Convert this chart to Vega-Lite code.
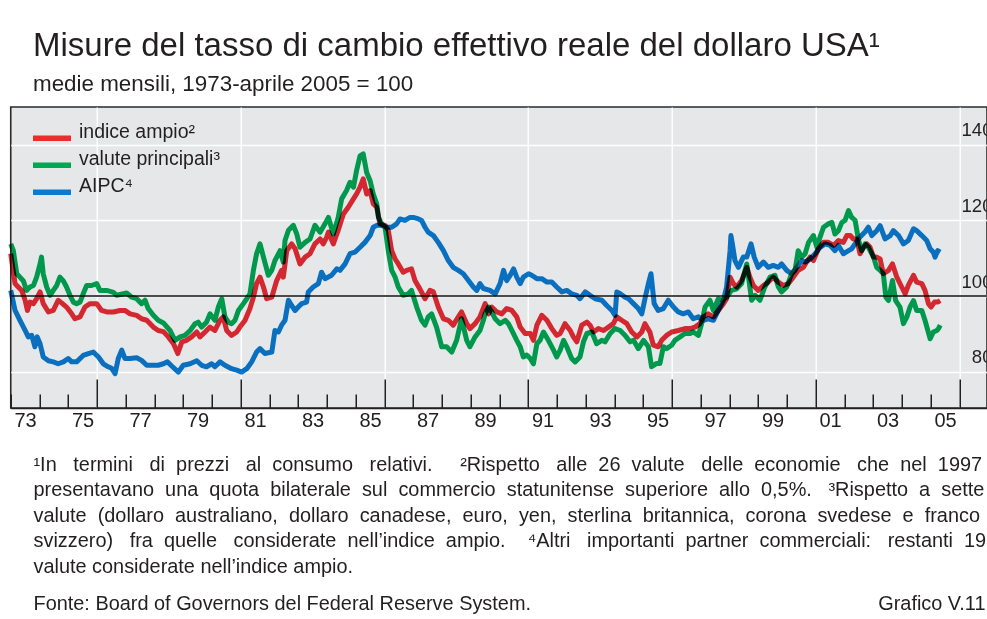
{
"$schema": "https://vega.github.io/schema/vega-lite/v6.json",
"width": 976.25,
"height": 301,
"autosize": {"type": "none"},
"padding": {"left": 10.75, "top": 107, "right": 0, "bottom": 211},
"background": "white",
"config": {
  "view": {"fill": "#e6e7e9", "stroke": "#2a2a2a", "strokeWidth": 1.6},
  "font": "Liberation Sans"
},
"title": {
  "text": "Misure del tasso di cambio effettivo reale del dollaro USA¹",
  "subtitle": "medie mensili, 1973-aprile 2005 = 100",
  "anchor": "start", "frame": "group", "dx": 22.25,
  "font": "Liberation Sans", "fontSize": 33, "fontWeight": "normal", "color": "#231f20",
  "subtitleFont": "Liberation Sans", "subtitleFontSize": 22.4, "subtitleColor": "#231f20", "subtitlePadding": 10,
  "offset": 12
},
"layer": [
  {
    "data": {"values": [{}]},
    "mark": {"type": "rule", "color": "#4a4a4a", "strokeWidth": 2},
    "encoding": {
      "y": {"datum": 100, "type": "quantitative",
        "scale": {"domain": [70.4, 150], "nice": false, "zero": false},
        "axis": {"orient": "left", "labels": false, "ticks": false, "domain": false, "grid": false,
          "title": "Fonte: Board of Governors del Federal Reserve System.",
          "titleAngle": 0, "titleAlign": "left", "titleBaseline": "alphabetic",
          "titleX": 22.25, "titleY": 502, "titleFontSize": 19.9, "titleFontWeight": "normal", "titleColor": "#231f20"}
      }
    }
  },
  {
    "data": {"values": [
{"s":"A","t":1973.00,"v":111.2},{"s":"A","t":1973.15,"v":103.3},{"s":"A","t":1973.26,"v":102.4},{"s":"A","t":1973.38,"v":101.5},{"s":"A","t":1973.50,"v":98.9},{"s":"A","t":1973.58,"v":96.2},{"s":"A","t":1973.67,"v":98.4},{"s":"A","t":1973.79,"v":98.0},{"s":"A","t":1973.90,"v":99.3},{"s":"A","t":1974.02,"v":101.1},{"s":"A","t":1974.13,"v":98.0},{"s":"A","t":1974.31,"v":95.8},{"s":"A","t":1974.48,"v":96.2},{"s":"A","t":1974.65,"v":98.9},{"s":"A","t":1974.77,"v":98.2},{"s":"A","t":1974.94,"v":97.1},{"s":"A","t":1975.12,"v":95.3},{"s":"A","t":1975.23,"v":94.0},{"s":"A","t":1975.41,"v":94.5},{"s":"A","t":1975.58,"v":97.1},{"s":"A","t":1975.76,"v":98.0},{"s":"A","t":1975.99,"v":98.0},{"s":"A","t":1976.16,"v":96.2},{"s":"A","t":1976.34,"v":95.8},{"s":"A","t":1976.57,"v":95.8},{"s":"A","t":1976.80,"v":96.2},{"s":"A","t":1976.97,"v":96.2},{"s":"A","t":1977.15,"v":95.3},{"s":"A","t":1977.38,"v":94.9},{"s":"A","t":1977.55,"v":94.0},{"s":"A","t":1977.73,"v":93.6},{"s":"A","t":1977.96,"v":91.8},{"s":"A","t":1978.13,"v":90.9},{"s":"A","t":1978.31,"v":90.6},{"s":"A","t":1978.48,"v":89.2},{"s":"A","t":1978.66,"v":87.4},{"s":"A","t":1978.81,"v":84.8},{"s":"A","t":1978.95,"v":87.9},{"s":"A","t":1979.12,"v":88.3},{"s":"A","t":1979.29,"v":89.2},{"s":"A","t":1979.47,"v":90.5},{"s":"A","t":1979.58,"v":89.2},{"s":"A","t":1979.76,"v":90.5},{"s":"A","t":1979.93,"v":91.8},{"s":"A","t":1980.10,"v":90.9},{"s":"A","t":1980.28,"v":93.6},{"s":"A","t":1980.39,"v":94.5},{"s":"A","t":1980.51,"v":90.9},{"s":"A","t":1980.68,"v":89.6},{"s":"A","t":1980.86,"v":90.5},{"s":"A","t":1980.97,"v":91.8},{"s":"A","t":1981.15,"v":93.6},{"s":"A","t":1981.32,"v":96.7},{"s":"A","t":1981.44,"v":99.7},{"s":"A","t":1981.55,"v":103.3},{"s":"A","t":1981.67,"v":105.0},{"s":"A","t":1981.79,"v":102.4},{"s":"A","t":1981.90,"v":99.3},{"s":"A","t":1982.08,"v":99.7},{"s":"A","t":1982.25,"v":104.1},{"s":"A","t":1982.42,"v":106.8},{"s":"A","t":1982.48,"v":105.0},{"s":"A","t":1982.60,"v":112.0},{"s":"A","t":1982.77,"v":113.8},{"s":"A","t":1982.89,"v":112.5},{"s":"A","t":1983.06,"v":108.5},{"s":"A","t":1983.24,"v":110.3},{"s":"A","t":1983.41,"v":111.2},{"s":"A","t":1983.58,"v":113.8},{"s":"A","t":1983.76,"v":115.1},{"s":"A","t":1983.87,"v":113.8},{"s":"A","t":1983.99,"v":115.6},{"s":"A","t":1984.05,"v":116.9},{"s":"A","t":1984.22,"v":113.8},{"s":"A","t":1984.39,"v":117.4},{"s":"A","t":1984.57,"v":121.7},{"s":"A","t":1984.74,"v":123.5},{"s":"A","t":1984.92,"v":125.7},{"s":"A","t":1985.03,"v":127.0},{"s":"A","t":1985.15,"v":128.8},{"s":"A","t":1985.26,"v":131.0},{"s":"A","t":1985.38,"v":127.0},{"s":"A","t":1985.50,"v":127.9},{"s":"A","t":1985.61,"v":124.4},{"s":"A","t":1985.73,"v":123.5},{"s":"A","t":1985.84,"v":119.1},{"s":"A","t":1986.02,"v":118.7},{"s":"A","t":1986.13,"v":117.4},{"s":"A","t":1986.25,"v":112.0},{"s":"A","t":1986.37,"v":109.8},{"s":"A","t":1986.48,"v":108.5},{"s":"A","t":1986.65,"v":106.3},{"s":"A","t":1986.77,"v":106.8},{"s":"A","t":1986.94,"v":107.2},{"s":"A","t":1987.06,"v":104.1},{"s":"A","t":1987.23,"v":101.9},{"s":"A","t":1987.41,"v":99.3},{"s":"A","t":1987.58,"v":101.5},{"s":"A","t":1987.70,"v":101.1},{"s":"A","t":1987.87,"v":97.1},{"s":"A","t":1988.05,"v":94.0},{"s":"A","t":1988.22,"v":93.6},{"s":"A","t":1988.39,"v":92.3},{"s":"A","t":1988.57,"v":94.5},{"s":"A","t":1988.68,"v":95.8},{"s":"A","t":1988.86,"v":92.7},{"s":"A","t":1988.97,"v":91.4},{"s":"A","t":1989.15,"v":92.7},{"s":"A","t":1989.32,"v":94.5},{"s":"A","t":1989.50,"v":98.0},{"s":"A","t":1989.62,"v":95.3},{"s":"A","t":1989.73,"v":97.1},{"s":"A","t":1989.91,"v":95.8},{"s":"A","t":1990.08,"v":95.3},{"s":"A","t":1990.25,"v":96.7},{"s":"A","t":1990.43,"v":96.2},{"s":"A","t":1990.60,"v":94.5},{"s":"A","t":1990.72,"v":91.8},{"s":"A","t":1990.89,"v":90.1},{"s":"A","t":1991.07,"v":90.1},{"s":"A","t":1991.18,"v":88.3},{"s":"A","t":1991.30,"v":92.3},{"s":"A","t":1991.47,"v":94.9},{"s":"A","t":1991.65,"v":93.6},{"s":"A","t":1991.82,"v":91.4},{"s":"A","t":1991.99,"v":89.6},{"s":"A","t":1992.11,"v":90.1},{"s":"A","t":1992.28,"v":92.7},{"s":"A","t":1992.46,"v":90.9},{"s":"A","t":1992.57,"v":89.2},{"s":"A","t":1992.69,"v":87.9},{"s":"A","t":1992.86,"v":92.3},{"s":"A","t":1993.04,"v":93.1},{"s":"A","t":1993.15,"v":92.3},{"s":"A","t":1993.27,"v":90.5},{"s":"A","t":1993.44,"v":91.4},{"s":"A","t":1993.62,"v":90.9},{"s":"A","t":1993.79,"v":91.8},{"s":"A","t":1993.96,"v":92.7},{"s":"A","t":1994.08,"v":94.5},{"s":"A","t":1994.25,"v":93.6},{"s":"A","t":1994.43,"v":92.7},{"s":"A","t":1994.60,"v":90.5},{"s":"A","t":1994.78,"v":89.2},{"s":"A","t":1994.95,"v":90.5},{"s":"A","t":1995.06,"v":92.7},{"s":"A","t":1995.23,"v":90.5},{"s":"A","t":1995.35,"v":87.0},{"s":"A","t":1995.52,"v":86.6},{"s":"A","t":1995.64,"v":88.3},{"s":"A","t":1995.81,"v":89.6},{"s":"A","t":1995.99,"v":90.5},{"s":"A","t":1996.22,"v":90.9},{"s":"A","t":1996.45,"v":91.4},{"s":"A","t":1996.63,"v":91.4},{"s":"A","t":1996.80,"v":91.8},{"s":"A","t":1996.97,"v":92.7},{"s":"A","t":1997.09,"v":94.5},{"s":"A","t":1997.26,"v":95.3},{"s":"A","t":1997.44,"v":94.5},{"s":"A","t":1997.61,"v":96.2},{"s":"A","t":1997.79,"v":98.0},{"s":"A","t":1997.90,"v":99.3},{"s":"A","t":1998.02,"v":105.0},{"s":"A","t":1998.13,"v":103.3},{"s":"A","t":1998.25,"v":102.4},{"s":"A","t":1998.42,"v":104.1},{"s":"A","t":1998.60,"v":107.6},{"s":"A","t":1998.71,"v":105.0},{"s":"A","t":1998.83,"v":102.8},{"s":"A","t":1999.00,"v":101.5},{"s":"A","t":1999.18,"v":102.8},{"s":"A","t":1999.35,"v":103.7},{"s":"A","t":1999.52,"v":105.0},{"s":"A","t":1999.70,"v":103.7},{"s":"A","t":1999.87,"v":102.8},{"s":"A","t":2000.05,"v":103.3},{"s":"A","t":2000.22,"v":105.0},{"s":"A","t":2000.39,"v":106.8},{"s":"A","t":2000.57,"v":107.6},{"s":"A","t":2000.68,"v":109.0},{"s":"A","t":2000.80,"v":110.3},{"s":"A","t":2000.92,"v":109.4},{"s":"A","t":2001.09,"v":112.5},{"s":"A","t":2001.27,"v":114.2},{"s":"A","t":2001.44,"v":114.2},{"s":"A","t":2001.62,"v":113.4},{"s":"A","t":2001.79,"v":114.7},{"s":"A","t":2001.96,"v":114.2},{"s":"A","t":2002.08,"v":116.0},{"s":"A","t":2002.20,"v":116.0},{"s":"A","t":2002.31,"v":115.1},{"s":"A","t":2002.43,"v":115.1},{"s":"A","t":2002.54,"v":111.2},{"s":"A","t":2002.66,"v":112.9},{"s":"A","t":2002.78,"v":113.8},{"s":"A","t":2002.89,"v":112.9},{"s":"A","t":2003.01,"v":110.3},{"s":"A","t":2003.12,"v":110.3},{"s":"A","t":2003.24,"v":109.8},{"s":"A","t":2003.35,"v":105.9},{"s":"A","t":2003.53,"v":106.8},{"s":"A","t":2003.67,"v":108.5},{"s":"A","t":2003.82,"v":105.0},{"s":"A","t":2003.99,"v":102.4},{"s":"A","t":2004.11,"v":100.6},{"s":"A","t":2004.22,"v":102.8},{"s":"A","t":2004.40,"v":105.5},{"s":"A","t":2004.51,"v":103.7},{"s":"A","t":2004.69,"v":103.3},{"s":"A","t":2004.80,"v":101.5},{"s":"A","t":2004.92,"v":98.0},{"s":"A","t":2005.01,"v":97.1},{"s":"A","t":2005.13,"v":98.4},{"s":"A","t":2005.24,"v":98.4},{"s":"A","t":2005.33,"v":98.8},
{"s":"B","t":1973.00,"v":113.8},{"s":"B","t":1973.09,"v":112.0},{"s":"B","t":1973.21,"v":105.9},{"s":"B","t":1973.32,"v":105.0},{"s":"B","t":1973.44,"v":104.0},{"s":"B","t":1973.55,"v":101.5},{"s":"B","t":1973.67,"v":102.4},{"s":"B","t":1973.79,"v":102.8},{"s":"B","t":1973.90,"v":105.0},{"s":"B","t":1974.02,"v":108.5},{"s":"B","t":1974.07,"v":110.3},{"s":"B","t":1974.13,"v":105.9},{"s":"B","t":1974.25,"v":102.4},{"s":"B","t":1974.37,"v":100.2},{"s":"B","t":1974.48,"v":101.5},{"s":"B","t":1974.60,"v":102.8},{"s":"B","t":1974.71,"v":105.0},{"s":"B","t":1974.83,"v":104.0},{"s":"B","t":1974.94,"v":102.4},{"s":"B","t":1975.06,"v":100.2},{"s":"B","t":1975.18,"v":98.4},{"s":"B","t":1975.29,"v":98.0},{"s":"B","t":1975.41,"v":98.4},{"s":"B","t":1975.52,"v":100.6},{"s":"B","t":1975.64,"v":102.8},{"s":"B","t":1975.81,"v":102.8},{"s":"B","t":1975.99,"v":103.3},{"s":"B","t":1976.10,"v":101.5},{"s":"B","t":1976.34,"v":101.5},{"s":"B","t":1976.57,"v":101.0},{"s":"B","t":1976.68,"v":100.2},{"s":"B","t":1976.92,"v":100.6},{"s":"B","t":1977.03,"v":100.8},{"s":"B","t":1977.21,"v":99.7},{"s":"B","t":1977.38,"v":99.3},{"s":"B","t":1977.55,"v":98.0},{"s":"B","t":1977.67,"v":98.9},{"s":"B","t":1977.78,"v":96.7},{"s":"B","t":1977.96,"v":94.9},{"s":"B","t":1978.13,"v":93.6},{"s":"B","t":1978.31,"v":92.9},{"s":"B","t":1978.54,"v":90.9},{"s":"B","t":1978.71,"v":88.3},{"s":"B","t":1978.89,"v":89.2},{"s":"B","t":1979.06,"v":89.6},{"s":"B","t":1979.24,"v":90.9},{"s":"B","t":1979.41,"v":92.7},{"s":"B","t":1979.52,"v":93.1},{"s":"B","t":1979.64,"v":91.8},{"s":"B","t":1979.81,"v":93.1},{"s":"B","t":1979.93,"v":95.3},{"s":"B","t":1980.10,"v":93.6},{"s":"B","t":1980.22,"v":97.1},{"s":"B","t":1980.34,"v":99.3},{"s":"B","t":1980.45,"v":94.5},{"s":"B","t":1980.57,"v":93.1},{"s":"B","t":1980.68,"v":92.7},{"s":"B","t":1980.80,"v":93.6},{"s":"B","t":1980.92,"v":96.2},{"s":"B","t":1981.09,"v":98.0},{"s":"B","t":1981.21,"v":99.3},{"s":"B","t":1981.32,"v":100.6},{"s":"B","t":1981.44,"v":106.8},{"s":"B","t":1981.55,"v":111.2},{"s":"B","t":1981.67,"v":113.8},{"s":"B","t":1981.79,"v":110.3},{"s":"B","t":1981.96,"v":105.5},{"s":"B","t":1982.08,"v":106.8},{"s":"B","t":1982.19,"v":109.4},{"s":"B","t":1982.37,"v":112.0},{"s":"B","t":1982.48,"v":109.0},{"s":"B","t":1982.54,"v":114.7},{"s":"B","t":1982.66,"v":117.4},{"s":"B","t":1982.83,"v":118.7},{"s":"B","t":1982.95,"v":116.4},{"s":"B","t":1983.06,"v":112.9},{"s":"B","t":1983.24,"v":114.2},{"s":"B","t":1983.41,"v":115.1},{"s":"B","t":1983.58,"v":118.7},{"s":"B","t":1983.76,"v":116.9},{"s":"B","t":1983.93,"v":119.1},{"s":"B","t":1984.05,"v":120.8},{"s":"B","t":1984.22,"v":116.4},{"s":"B","t":1984.39,"v":120.8},{"s":"B","t":1984.51,"v":125.7},{"s":"B","t":1984.68,"v":127.9},{"s":"B","t":1984.80,"v":130.1},{"s":"B","t":1984.92,"v":128.8},{"s":"B","t":1985.03,"v":133.2},{"s":"B","t":1985.15,"v":137.1},{"s":"B","t":1985.26,"v":137.6},{"s":"B","t":1985.38,"v":132.7},{"s":"B","t":1985.50,"v":130.5},{"s":"B","t":1985.61,"v":127.0},{"s":"B","t":1985.73,"v":124.4},{"s":"B","t":1985.79,"v":120.8},{"s":"B","t":1985.90,"v":119.1},{"s":"B","t":1986.02,"v":118.2},{"s":"B","t":1986.13,"v":112.0},{"s":"B","t":1986.25,"v":106.8},{"s":"B","t":1986.37,"v":105.0},{"s":"B","t":1986.48,"v":102.4},{"s":"B","t":1986.65,"v":100.2},{"s":"B","t":1986.83,"v":100.6},{"s":"B","t":1986.94,"v":101.5},{"s":"B","t":1987.12,"v":97.1},{"s":"B","t":1987.29,"v":93.6},{"s":"B","t":1987.41,"v":92.3},{"s":"B","t":1987.52,"v":94.5},{"s":"B","t":1987.64,"v":95.3},{"s":"B","t":1987.81,"v":91.8},{"s":"B","t":1987.99,"v":86.6},{"s":"B","t":1988.16,"v":86.6},{"s":"B","t":1988.34,"v":85.2},{"s":"B","t":1988.51,"v":88.3},{"s":"B","t":1988.68,"v":94.0},{"s":"B","t":1988.86,"v":88.3},{"s":"B","t":1988.97,"v":86.6},{"s":"B","t":1989.15,"v":89.2},{"s":"B","t":1989.32,"v":90.9},{"s":"B","t":1989.44,"v":93.6},{"s":"B","t":1989.50,"v":95.3},{"s":"B","t":1989.62,"v":97.1},{"s":"B","t":1989.73,"v":95.8},{"s":"B","t":1989.85,"v":94.0},{"s":"B","t":1990.02,"v":92.7},{"s":"B","t":1990.20,"v":93.6},{"s":"B","t":1990.31,"v":92.7},{"s":"B","t":1990.43,"v":90.9},{"s":"B","t":1990.60,"v":88.3},{"s":"B","t":1990.72,"v":86.6},{"s":"B","t":1990.83,"v":83.9},{"s":"B","t":1990.95,"v":84.4},{"s":"B","t":1991.07,"v":83.5},{"s":"B","t":1991.18,"v":82.1},{"s":"B","t":1991.30,"v":87.4},{"s":"B","t":1991.41,"v":88.3},{"s":"B","t":1991.53,"v":90.5},{"s":"B","t":1991.70,"v":88.3},{"s":"B","t":1991.88,"v":85.7},{"s":"B","t":1991.99,"v":83.9},{"s":"B","t":1992.11,"v":85.7},{"s":"B","t":1992.23,"v":88.3},{"s":"B","t":1992.34,"v":86.6},{"s":"B","t":1992.51,"v":83.5},{"s":"B","t":1992.63,"v":82.6},{"s":"B","t":1992.80,"v":83.9},{"s":"B","t":1992.92,"v":87.9},{"s":"B","t":1993.04,"v":90.1},{"s":"B","t":1993.21,"v":90.5},{"s":"B","t":1993.38,"v":87.4},{"s":"B","t":1993.56,"v":88.3},{"s":"B","t":1993.67,"v":87.9},{"s":"B","t":1993.85,"v":90.1},{"s":"B","t":1994.02,"v":91.4},{"s":"B","t":1994.20,"v":90.9},{"s":"B","t":1994.37,"v":89.6},{"s":"B","t":1994.54,"v":87.9},{"s":"B","t":1994.66,"v":88.3},{"s":"B","t":1994.83,"v":86.1},{"s":"B","t":1995.01,"v":88.3},{"s":"B","t":1995.18,"v":86.6},{"s":"B","t":1995.29,"v":81.3},{"s":"B","t":1995.47,"v":82.2},{"s":"B","t":1995.58,"v":82.2},{"s":"B","t":1995.70,"v":86.6},{"s":"B","t":1995.81,"v":86.1},{"s":"B","t":1995.99,"v":87.0},{"s":"B","t":1996.10,"v":88.3},{"s":"B","t":1996.28,"v":89.2},{"s":"B","t":1996.45,"v":90.1},{"s":"B","t":1996.63,"v":90.1},{"s":"B","t":1996.74,"v":90.5},{"s":"B","t":1996.92,"v":89.6},{"s":"B","t":1997.03,"v":92.7},{"s":"B","t":1997.15,"v":97.1},{"s":"B","t":1997.32,"v":98.9},{"s":"B","t":1997.44,"v":96.2},{"s":"B","t":1997.61,"v":99.3},{"s":"B","t":1997.73,"v":98.9},{"s":"B","t":1997.90,"v":99.7},{"s":"B","t":1998.07,"v":101.5},{"s":"B","t":1998.25,"v":101.9},{"s":"B","t":1998.42,"v":103.3},{"s":"B","t":1998.60,"v":108.5},{"s":"B","t":1998.77,"v":98.9},{"s":"B","t":1998.89,"v":100.2},{"s":"B","t":1999.06,"v":98.9},{"s":"B","t":1999.23,"v":102.4},{"s":"B","t":1999.41,"v":105.0},{"s":"B","t":1999.58,"v":105.5},{"s":"B","t":1999.70,"v":102.4},{"s":"B","t":1999.81,"v":101.1},{"s":"B","t":1999.99,"v":102.4},{"s":"B","t":2000.16,"v":105.9},{"s":"B","t":2000.28,"v":106.8},{"s":"B","t":2000.39,"v":112.0},{"s":"B","t":2000.51,"v":110.3},{"s":"B","t":2000.63,"v":111.2},{"s":"B","t":2000.75,"v":114.2},{"s":"B","t":2000.92,"v":116.0},{"s":"B","t":2001.04,"v":112.9},{"s":"B","t":2001.15,"v":115.6},{"s":"B","t":2001.27,"v":118.2},{"s":"B","t":2001.44,"v":119.1},{"s":"B","t":2001.56,"v":119.5},{"s":"B","t":2001.67,"v":116.4},{"s":"B","t":2001.79,"v":117.3},{"s":"B","t":2001.91,"v":119.5},{"s":"B","t":2002.02,"v":120.0},{"s":"B","t":2002.14,"v":122.6},{"s":"B","t":2002.25,"v":120.8},{"s":"B","t":2002.37,"v":120.0},{"s":"B","t":2002.49,"v":114.7},{"s":"B","t":2002.60,"v":112.0},{"s":"B","t":2002.72,"v":113.8},{"s":"B","t":2002.83,"v":112.9},{"s":"B","t":2003.01,"v":110.3},{"s":"B","t":2003.12,"v":107.6},{"s":"B","t":2003.24,"v":106.8},{"s":"B","t":2003.35,"v":105.9},{"s":"B","t":2003.44,"v":99.7},{"s":"B","t":2003.53,"v":98.8},{"s":"B","t":2003.67,"v":104.1},{"s":"B","t":2003.78,"v":98.8},{"s":"B","t":2003.93,"v":97.1},{"s":"B","t":2004.05,"v":92.7},{"s":"B","t":2004.17,"v":94.5},{"s":"B","t":2004.28,"v":97.1},{"s":"B","t":2004.40,"v":98.8},{"s":"B","t":2004.51,"v":96.2},{"s":"B","t":2004.69,"v":96.2},{"s":"B","t":2004.80,"v":93.6},{"s":"B","t":2004.98,"v":88.7},{"s":"B","t":2005.09,"v":90.5},{"s":"B","t":2005.21,"v":90.9},{"s":"B","t":2005.27,"v":91.4},{"s":"B","t":2005.33,"v":92.3},
{"s":"C","t":1973.00,"v":101.5},{"s":"C","t":1973.15,"v":96.2},{"s":"C","t":1973.32,"v":93.6},{"s":"C","t":1973.50,"v":90.9},{"s":"C","t":1973.61,"v":89.2},{"s":"C","t":1973.73,"v":89.6},{"s":"C","t":1973.84,"v":86.6},{"s":"C","t":1973.92,"v":89.2},{"s":"C","t":1974.02,"v":87.4},{"s":"C","t":1974.13,"v":83.9},{"s":"C","t":1974.31,"v":82.9},{"s":"C","t":1974.48,"v":82.6},{"s":"C","t":1974.65,"v":82.1},{"s":"C","t":1974.83,"v":82.6},{"s":"C","t":1975.00,"v":83.5},{"s":"C","t":1975.12,"v":82.6},{"s":"C","t":1975.29,"v":82.6},{"s":"C","t":1975.52,"v":84.3},{"s":"C","t":1975.70,"v":84.8},{"s":"C","t":1975.87,"v":85.2},{"s":"C","t":1976.05,"v":83.9},{"s":"C","t":1976.22,"v":82.1},{"s":"C","t":1976.39,"v":81.3},{"s":"C","t":1976.51,"v":80.9},{"s":"C","t":1976.63,"v":79.5},{"s":"C","t":1976.74,"v":83.5},{"s":"C","t":1976.86,"v":85.7},{"s":"C","t":1976.97,"v":83.5},{"s":"C","t":1977.15,"v":83.5},{"s":"C","t":1977.38,"v":83.7},{"s":"C","t":1977.55,"v":83.0},{"s":"C","t":1977.73,"v":81.7},{"s":"C","t":1977.96,"v":81.7},{"s":"C","t":1978.13,"v":81.7},{"s":"C","t":1978.31,"v":82.1},{"s":"C","t":1978.45,"v":82.6},{"s":"C","t":1978.60,"v":81.5},{"s":"C","t":1978.83,"v":79.9},{"s":"C","t":1979.00,"v":81.7},{"s":"C","t":1979.24,"v":82.1},{"s":"C","t":1979.47,"v":82.9},{"s":"C","t":1979.64,"v":81.7},{"s":"C","t":1979.81,"v":81.3},{"s":"C","t":1979.99,"v":82.1},{"s":"C","t":1980.10,"v":81.3},{"s":"C","t":1980.28,"v":82.6},{"s":"C","t":1980.45,"v":81.7},{"s":"C","t":1980.68,"v":80.8},{"s":"C","t":1980.86,"v":80.4},{"s":"C","t":1981.03,"v":79.9},{"s":"C","t":1981.21,"v":80.8},{"s":"C","t":1981.38,"v":82.6},{"s":"C","t":1981.55,"v":85.2},{"s":"C","t":1981.67,"v":86.1},{"s":"C","t":1981.84,"v":84.8},{"s":"C","t":1982.08,"v":85.2},{"s":"C","t":1982.19,"v":90.9},{"s":"C","t":1982.31,"v":90.5},{"s":"C","t":1982.42,"v":92.3},{"s":"C","t":1982.54,"v":93.6},{"s":"C","t":1982.66,"v":98.9},{"s":"C","t":1982.77,"v":97.5},{"s":"C","t":1982.89,"v":96.2},{"s":"C","t":1983.00,"v":97.1},{"s":"C","t":1983.12,"v":98.0},{"s":"C","t":1983.29,"v":98.4},{"s":"C","t":1983.35,"v":101.1},{"s":"C","t":1983.52,"v":102.4},{"s":"C","t":1983.70,"v":103.3},{"s":"C","t":1983.81,"v":106.3},{"s":"C","t":1983.93,"v":104.6},{"s":"C","t":1984.16,"v":105.5},{"s":"C","t":1984.34,"v":107.2},{"s":"C","t":1984.45,"v":106.8},{"s":"C","t":1984.63,"v":108.5},{"s":"C","t":1984.80,"v":111.2},{"s":"C","t":1984.97,"v":111.6},{"s":"C","t":1985.15,"v":112.9},{"s":"C","t":1985.32,"v":114.2},{"s":"C","t":1985.50,"v":116.0},{"s":"C","t":1985.61,"v":118.2},{"s":"C","t":1985.73,"v":118.7},{"s":"C","t":1985.90,"v":118.7},{"s":"C","t":1986.07,"v":118.2},{"s":"C","t":1986.25,"v":118.2},{"s":"C","t":1986.42,"v":119.1},{"s":"C","t":1986.54,"v":120.4},{"s":"C","t":1986.71,"v":120.0},{"s":"C","t":1986.89,"v":120.8},{"s":"C","t":1987.00,"v":120.8},{"s":"C","t":1987.18,"v":120.4},{"s":"C","t":1987.29,"v":120.0},{"s":"C","t":1987.41,"v":118.2},{"s":"C","t":1987.52,"v":116.9},{"s":"C","t":1987.70,"v":116.0},{"s":"C","t":1987.87,"v":114.2},{"s":"C","t":1988.05,"v":112.0},{"s":"C","t":1988.22,"v":109.4},{"s":"C","t":1988.39,"v":107.6},{"s":"C","t":1988.57,"v":106.8},{"s":"C","t":1988.74,"v":105.9},{"s":"C","t":1988.92,"v":104.1},{"s":"C","t":1989.09,"v":102.4},{"s":"C","t":1989.21,"v":101.5},{"s":"C","t":1989.32,"v":103.3},{"s":"C","t":1989.44,"v":102.0},{"s":"C","t":1989.67,"v":101.5},{"s":"C","t":1989.85,"v":100.6},{"s":"C","t":1990.02,"v":103.3},{"s":"C","t":1990.14,"v":106.8},{"s":"C","t":1990.25,"v":104.1},{"s":"C","t":1990.37,"v":105.5},{"s":"C","t":1990.49,"v":107.2},{"s":"C","t":1990.60,"v":105.0},{"s":"C","t":1990.72,"v":103.3},{"s":"C","t":1990.83,"v":105.0},{"s":"C","t":1991.01,"v":105.9},{"s":"C","t":1991.12,"v":105.5},{"s":"C","t":1991.30,"v":104.6},{"s":"C","t":1991.47,"v":104.6},{"s":"C","t":1991.65,"v":103.7},{"s":"C","t":1991.82,"v":103.7},{"s":"C","t":1991.99,"v":102.4},{"s":"C","t":1992.17,"v":101.1},{"s":"C","t":1992.34,"v":101.5},{"s":"C","t":1992.51,"v":100.6},{"s":"C","t":1992.69,"v":100.2},{"s":"C","t":1992.80,"v":99.3},{"s":"C","t":1992.98,"v":101.1},{"s":"C","t":1993.15,"v":100.2},{"s":"C","t":1993.33,"v":99.3},{"s":"C","t":1993.56,"v":98.9},{"s":"C","t":1993.73,"v":97.5},{"s":"C","t":1993.91,"v":96.2},{"s":"C","t":1994.02,"v":94.9},{"s":"C","t":1994.08,"v":101.1},{"s":"C","t":1994.20,"v":100.6},{"s":"C","t":1994.37,"v":99.7},{"s":"C","t":1994.49,"v":99.3},{"s":"C","t":1994.66,"v":98.0},{"s":"C","t":1994.83,"v":96.7},{"s":"C","t":1994.95,"v":95.3},{"s":"C","t":1995.07,"v":99.7},{"s":"C","t":1995.18,"v":103.3},{"s":"C","t":1995.27,"v":105.9},{"s":"C","t":1995.38,"v":98.0},{"s":"C","t":1995.52,"v":96.2},{"s":"C","t":1995.70,"v":96.7},{"s":"C","t":1995.87,"v":98.9},{"s":"C","t":1996.05,"v":97.1},{"s":"C","t":1996.22,"v":95.8},{"s":"C","t":1996.39,"v":95.3},{"s":"C","t":1996.57,"v":95.8},{"s":"C","t":1996.74,"v":94.0},{"s":"C","t":1996.92,"v":94.5},{"s":"C","t":1997.09,"v":93.6},{"s":"C","t":1997.26,"v":94.0},{"s":"C","t":1997.44,"v":93.6},{"s":"C","t":1997.61,"v":96.2},{"s":"C","t":1997.79,"v":98.9},{"s":"C","t":1997.90,"v":102.4},{"s":"C","t":1998.02,"v":112.0},{"s":"C","t":1998.05,"v":116.0},{"s":"C","t":1998.10,"v":113.8},{"s":"C","t":1998.19,"v":109.4},{"s":"C","t":1998.31,"v":107.6},{"s":"C","t":1998.48,"v":110.3},{"s":"C","t":1998.60,"v":110.3},{"s":"C","t":1998.75,"v":113.8},{"s":"C","t":1998.86,"v":110.3},{"s":"C","t":1999.00,"v":107.6},{"s":"C","t":1999.18,"v":109.0},{"s":"C","t":1999.35,"v":107.6},{"s":"C","t":1999.52,"v":108.1},{"s":"C","t":1999.70,"v":107.6},{"s":"C","t":1999.81,"v":108.5},{"s":"C","t":1999.99,"v":106.8},{"s":"C","t":2000.16,"v":105.9},{"s":"C","t":2000.34,"v":107.6},{"s":"C","t":2000.51,"v":109.4},{"s":"C","t":2000.63,"v":109.0},{"s":"C","t":2000.80,"v":109.8},{"s":"C","t":2000.98,"v":111.2},{"s":"C","t":2001.15,"v":112.9},{"s":"C","t":2001.33,"v":113.8},{"s":"C","t":2001.50,"v":113.4},{"s":"C","t":2001.67,"v":112.0},{"s":"C","t":2001.79,"v":113.4},{"s":"C","t":2001.96,"v":111.2},{"s":"C","t":2002.14,"v":112.0},{"s":"C","t":2002.25,"v":112.5},{"s":"C","t":2002.37,"v":113.8},{"s":"C","t":2002.54,"v":115.6},{"s":"C","t":2002.72,"v":117.0},{"s":"C","t":2002.83,"v":118.2},{"s":"C","t":2002.95,"v":116.0},{"s":"C","t":2003.12,"v":117.3},{"s":"C","t":2003.24,"v":118.6},{"s":"C","t":2003.41,"v":115.1},{"s":"C","t":2003.59,"v":116.0},{"s":"C","t":2003.70,"v":117.3},{"s":"C","t":2003.88,"v":116.0},{"s":"C","t":2004.05,"v":113.8},{"s":"C","t":2004.22,"v":114.7},{"s":"C","t":2004.40,"v":117.8},{"s":"C","t":2004.51,"v":117.3},{"s":"C","t":2004.69,"v":116.0},{"s":"C","t":2004.86,"v":114.7},{"s":"C","t":2004.98,"v":112.5},{"s":"C","t":2005.09,"v":111.6},{"s":"C","t":2005.15,"v":110.3},{"s":"C","t":2005.24,"v":112.0},{"s":"C","t":2005.33,"v":111.6}
    ]},
    "mark": {"type": "line", "strokeWidth": 5, "blend": "multiply", "strokeJoin": "round"},
    "encoding": {
      "x": {"field": "t", "type": "quantitative",
        "scale": {"domain": [1973, 2006.957], "nice": false, "zero": false},
        "axis": {
          "values": [1973,1974,1975,1976,1977,1978,1979,1980,1981,1982,1983,1984,1985,1986,1987,1988,1989,1990,1991,1992,1993,1994,1995,1996,1997,1998,1999,2000,2001,2002,2003,2004,2005,2006],
          "labelExpr": "datum.value % 2 == 1 ? substring(toString(datum.value), 2) : ''",
          "labelOffset": 14.375, "labelAlign": "center", "labelBaseline": "top",
          "labelFontSize": 20, "labelColor": "#231f20",
          "labelPadding": {"condition": {"test": "datum.value % 5 == 1", "value": 31}, "value": 16},
          "labelFlush": false, "labelOverlap": false, "labelBound": false,
          "tickSize": {"condition": {"test": "datum.value % 5 == 1", "value": -29}, "value": -14},
          "tickColor": "#231f20", "tickWidth": 1.5,
          "domain": true, "domainColor": "#231f20", "domainWidth": 1.6,
          "grid": true,
          "gridColor": {"condition": {"test": "datum.value % 5 == 1", "value": "#ffffff"}, "value": "rgba(0,0,0,0)"},
          "gridWidth": 1.4,
          "title": [
            "¹In \u00a0\u00a0termini \u00a0\u00a0di \u00a0prezzi \u00a0\u00a0al \u00a0consumo \u00a0\u00a0relativi. \u00a0\u00a0\u00a0\u00a0²Rispetto \u00a0\u00a0alle \u00a026 \u00a0valute \u00a0\u00a0delle \u00a0economie \u00a0\u00a0che \u00a0nel \u00a01997",
            "presentavano \u00a0una \u00a0quota \u00a0bilaterale \u00a0sul \u00a0commercio \u00a0statunitense \u00a0superiore \u00a0allo \u00a00,5%. \u00a0\u00a0³Rispetto \u00a0a \u00a0sette",
            "valute \u00a0(dollaro \u00a0australiano, \u00a0dollaro \u00a0canadese, \u00a0euro, \u00a0yen, \u00a0sterlina \u00a0britannica, \u00a0corona \u00a0svedese \u00a0e \u00a0franco",
            "svizzero) \u00a0\u00a0fra \u00a0quelle \u00a0\u00a0considerate \u00a0nell’indice \u00a0ampio. \u00a0\u00a0\u00a0⁴Altri \u00a0\u00a0importanti \u00a0partner \u00a0commerciali: \u00a0\u00a0restanti \u00a019",
            "valute considerate nell’indice ampio."
          ],
          "titleAlign": "left", "titleAnchor": "start", "titleX": 22.25, "titleY": 62,
          "titleBaseline": "alphabetic", "titleFontSize": 19.9, "titleFontWeight": "normal",
          "titleLineHeight": 25.5, "titleColor": "#231f20"
        }
      },
      "y": {"field": "v", "type": "quantitative",
        "scale": {"domain": [70.4, 150], "nice": false, "zero": false},
        "axis": {"orient": "right", "values": [80, 100, 120, 140],
          "labelAlign": "right", "labelPadding": 5, "labelBaseline": "alphabetic", "labelOffset": -9,
          "labelFontSize": 18.6, "labelColor": "#231f20",
          "ticks": false, "domain": false, "grid": true, "gridColor": "#ffffff", "gridWidth": 1.5,
          "title": "Grafico V.11", "titleAngle": 0, "titleAlign": "right", "titleBaseline": "alphabetic",
          "titleX": -2, "titleY": 502, "titleFontSize": 19.9, "titleFontWeight": "normal", "titleColor": "#231f20"}
      },
      "color": {"field": "s", "type": "nominal",
        "scale": {"domain": ["A", "B", "C"], "range": ["#ea2c33", "#00a853", "#0a7bd0"]},
        "legend": {"orient": "none", "legendX": 28.75, "legendY": 18.7, "title": null,
          "labelExpr": "datum.label == 'A' ? 'indice ampio²' : datum.label == 'B' ? 'valute principali³' : 'AIPC⁴'",
          "symbolType": "M-2,0H2", "symbolSize": 361, "symbolStrokeWidth": 5.5,
          "labelFontSize": 19.5, "labelOffset": 14.5, "rowPadding": -1,
          "labelColor": "#231f20", "labelBaseline": "alphabetic"}
      }
    }
  }
],
"resolve": {"axis": {"y": "independent"}}
}
